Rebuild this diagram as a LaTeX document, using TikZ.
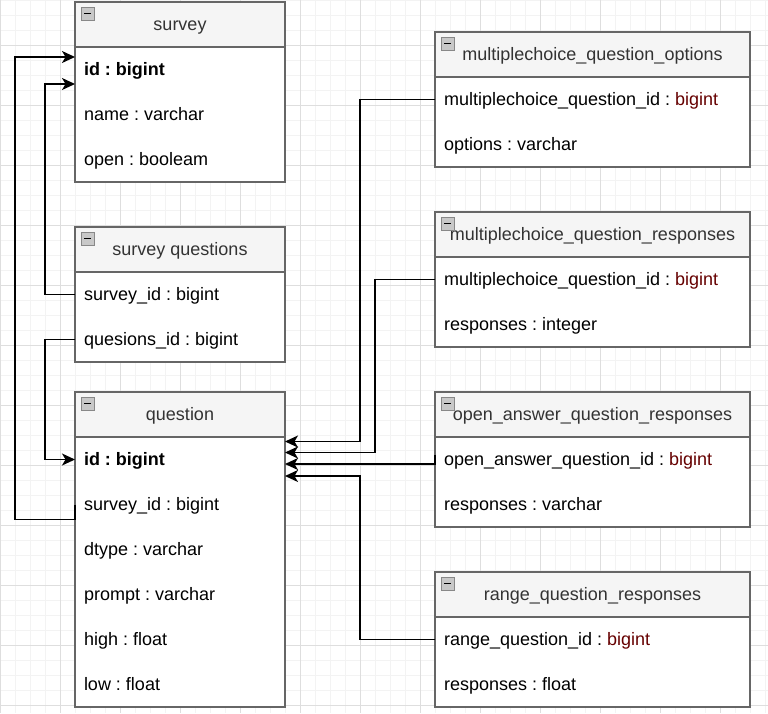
\documentclass[tikz,border=0pt]{standalone}
\usepackage{fontspec}
\setmainfont{Liberation Sans}
\usetikzlibrary{positioning,calc,arrows.meta}
\frenchspacing

\definecolor{tblborder}{RGB}{102,102,102}
\definecolor{hdrfill}{RGB}{245,245,245}
\definecolor{hdrtext}{RGB}{51,51,51}
\definecolor{typered}{RGB}{102,0,0}
\definecolor{gridminor}{RGB}{243,243,243}
\definecolor{gridmajor}{RGB}{222,222,222}
\definecolor{iconfill}{RGB}{200,200,200}
\definecolor{iconedge}{RGB}{136,136,136}

\tikzset{
  hdr/.style={rectangle, draw=tblborder, fill=hdrfill, line width=1.5pt, text=hdrtext,
    minimum height=45pt, inner sep=0pt, outer sep=0pt, text height=14pt, text depth=3pt, anchor=north west},
  tblbody/.style={rectangle, draw=tblborder, fill=white, line width=1.5pt, inner sep=0pt, outer sep=0pt},
  field/.style={anchor=west, inner xsep=9pt, inner ysep=0pt, outer sep=0pt, text height=14pt, text depth=3pt},
  fk/.style={draw=black, line width=1.5pt, -{Stealth[length=13pt,width=12pt,inset=3.5pt]}},
  iconbox/.style={draw=iconedge, fill=iconfill, line width=1pt},
}

\begin{document}
\begin{tikzpicture}[x=1pt, y=-1pt, font=\fontsize{18pt}{21pt}\selectfont]
  \useasboundingbox (0,0) rectangle (768,713);
  \fill[white] (0,0) rectangle (768,713);

  % grid
  \foreach \gx in {0,15,...,765} \draw[gridminor, line width=1pt] (\gx,0) -- (\gx,713);
  \foreach \gy in {0,15,...,705} \draw[gridminor, line width=1pt] (0,\gy) -- (768,\gy);
  \foreach \gx in {0,60,...,720} \draw[gridmajor, line width=1pt] (\gx,0) -- (\gx,713);
  \foreach \gy in {45,105,...,705} \draw[gridmajor, line width=1pt] (0,\gy) -- (768,\gy);

  % survey
  \node[hdr, minimum width=210pt] (survey) at (75,2) {survey};
  \node[tblbody, minimum width=210pt, minimum height=135pt, below=0pt of survey] (surveyb) {};
  \node[field] (survey-id) at ($(surveyb.north west)+(0,22.5)$) {\textbf{id : bigint}};
  \node[field] (survey-name) at ($(survey-id.west)+(0,45)$) {name : varchar};
  \node[field] (survey-open) at ($(survey-name.west)+(0,45)$) {open : booleam};

  % survey questions
  \node[hdr, minimum width=210pt] (surveyq) at (75,227) {survey questions};
  \node[tblbody, minimum width=210pt, minimum height=90pt, below=0pt of surveyq] (surveyqb) {};
  \node[field] (sq-survey) at ($(surveyqb.north west)+(0,22.5)$) {survey\_id : bigint};
  \node[field] (sq-question) at ($(sq-survey.west)+(0,45)$) {quesions\_id : bigint};

  % question
  \node[hdr, minimum width=210pt] (question) at (75,392) {question};
  \node[tblbody, minimum width=210pt, minimum height=270pt, below=0pt of question] (questionb) {};
  \node[field] (q-id) at ($(questionb.north west)+(0,22.5)$) {\textbf{id : bigint}};
  \node[field] (q-survey) at ($(q-id.west)+(0,45)$) {survey\_id : bigint};
  \node[field] (q-dtype) at ($(q-survey.west)+(0,45)$) {dtype : varchar};
  \node[field] (q-prompt) at ($(q-dtype.west)+(0,45)$) {prompt : varchar};
  \node[field] (q-high) at ($(q-prompt.west)+(0,45)$) {high : float};
  \node[field] (q-low) at ($(q-high.west)+(0,45)$) {low : float};

  % multiplechoice_question_options
  \node[hdr, minimum width=315pt] (mco) at (435,32) {multiplechoice\_question\_options};
  \node[tblbody, minimum width=315pt, minimum height=90pt, below=0pt of mco] (mcob) {};
  \node[field] (mco-id) at ($(mcob.north west)+(0,22.5)$) {multiplechoice\_question\_id : \textcolor{typered}{bigint}};
  \node[field] (mco-options) at ($(mco-id.west)+(0,45)$) {options : varchar};

  % multiplechoice_question_responses
  \node[hdr, minimum width=315pt] (mcr) at (435,212) {multiplechoice\_question\_responses};
  \node[tblbody, minimum width=315pt, minimum height=90pt, below=0pt of mcr] (mcrb) {};
  \node[field] (mcr-id) at ($(mcrb.north west)+(0,22.5)$) {multiplechoice\_question\_id : \textcolor{typered}{bigint}};
  \node[field] (mcr-resp) at ($(mcr-id.west)+(0,45)$) {responses : integer};

  % open_answer_question_responses
  \node[hdr, minimum width=315pt] (oa) at (435,392) {open\_answer\_question\_responses};
  \node[tblbody, minimum width=315pt, minimum height=90pt, below=0pt of oa] (oab) {};
  \node[field] (oa-id) at ($(oab.north west)+(0,22.5)$) {open\_answer\_question\_id : \textcolor{typered}{bigint}};
  \node[field] (oa-resp) at ($(oa-id.west)+(0,45)$) {responses : varchar};

  % range_question_responses
  \node[hdr, minimum width=315pt] (rq) at (435,572) {range\_question\_responses};
  \node[tblbody, minimum width=315pt, minimum height=90pt, below=0pt of rq] (rqb) {};
  \node[field] (rq-id) at ($(rqb.north west)+(0,22.5)$) {range\_question\_id : \textcolor{typered}{bigint}};
  \node[field] (rq-resp) at ($(rq-id.west)+(0,45)$) {responses : float};

  % collapse icons
  \foreach \t in {survey,surveyq,question,mco,mcr,oa,rq} {
    \draw[iconbox] ($(\t.north west)+(6,5)$) rectangle ++(13,13);
    \draw[black, line width=1.5pt] ($(\t.north west)+(9,11.5)$) -- ++(7,0);
  }

  % foreign keys
  \draw[fk] (q-survey.west) -- ++(0,15) -- ++(-60,0) |- ($(survey-id.west)+(0,-12.5)$);
  \draw[fk] (sq-survey.west) -- ++(-30,0) |- ($(survey-id.west)+(0,14.5)$);
  \draw[fk] (sq-question.west) -- ++(-30,0) |- (q-id.west);
  \draw[fk] (mco-id.west) -- ++(-75,0) |- ($(questionb.east |- q-id.west)+(0,-18)$);
  \draw[fk] (mcr-id.west) -- ++(-60,0) |- ($(questionb.east |- q-id.west)+(0,-7)$);
  \draw[fk] ($(oa-id.west)+(0,-5)$) |- ($(questionb.east |- q-id.west)+(0,4.5)$);
  \draw[fk] (rq-id.west) -- ++(-75,0) |- ($(questionb.east |- q-id.west)+(0,16.5)$);
\end{tikzpicture}
\end{document}
